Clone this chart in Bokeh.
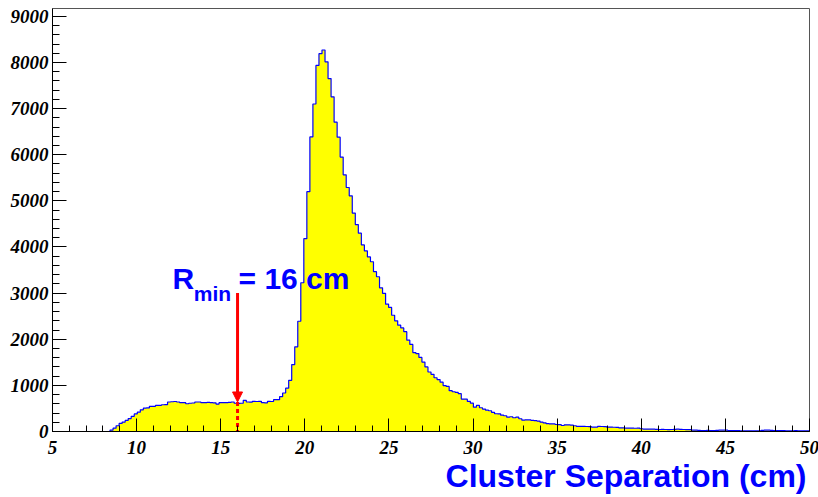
from bokeh.plotting import figure
from bokeh.models import FixedTicker, Label, Arrow, NormalHead, Range1d, LinearAxis
from bokeh.embed import file_html
from bokeh.resources import INLINE

# ---- data ----
x_lo, x_hi = 5.0, 50.0
n_bins = 250
counts = [
    0, 0, 0, 0, 0, 0, 0, 0, 0, 0,
    0, 0, 0, 0, 0, 0, 0, 0, 0, 30,
    72, 125, 175, 205, 240, 280, 330, 380, 420, 470,
    505, 510, 545, 545, 565, 568, 580, 582, 640, 645,
    650, 640, 625, 625, 602, 612, 618, 640, 640, 625,
    628, 630, 625, 622, 595, 625, 628, 625, 630, 640,
    612, 608, 612, 675, 640, 638, 655, 650, 655, 625,
    622, 655, 650, 690, 690, 755, 835, 940, 1110, 1450,
    1835, 2390, 3225, 4180, 5200, 6385, 7100, 7935, 8190, 8270,
    8015, 7650, 7255, 6705, 6380, 5950, 5565, 5290, 5110, 4735,
    4485, 4300, 4045, 3915, 3785, 3680, 3465, 3355, 3115, 2995,
    2760, 2690, 2520, 2400, 2305, 2245, 2165, 1980, 1888, 1710,
    1690, 1605, 1505, 1400, 1290, 1240, 1165, 1125, 1070, 995,
    978, 885, 862, 848, 820, 702, 700, 652, 615, 528,
    565, 515, 486, 463, 450, 413, 385, 383, 354, 341,
    311, 320, 298, 311, 276, 246, 254, 250, 240, 235,
    225, 205, 189, 170, 167, 165, 152, 150, 130, 145,
    143, 140, 125, 110, 109, 110, 108, 105, 94, 94,
    109, 108, 104, 94, 95, 92, 90, 80, 80, 72,
    73, 72, 70, 72, 60, 51, 52, 50, 51, 48,
    43, 44, 43, 42, 43, 48, 51, 48, 43, 42,
    40, 29, 30, 25, 22, 22, 23, 22, 22, 25,
    29, 30, 28, 22, 22, 21, 18, 14, 15, 14,
    14, 13, 14, 14, 25, 29, 28, 25, 22, 22,
    21, 22, 14, 14, 15, 18, 14, 13, 14, 14,
]
assert len(counts) == n_bins

x_major_ticks = [5, 10, 15, 20, 25, 30, 35, 40, 45, 50]
x_minor_ticks = list(range(5, 51))
y_major_ticks = [0, 1000, 2000, 3000, 4000, 5000, 6000, 7000, 8000, 9000]
y_minor_ticks = list(range(0, 9001, 200))
y_top = 9170

r_min = 16.0
arrow_top = 3000
arrow_tip = 640
x_title = "Cluster Separation (cm)"

# ---- page layout (pixels) ----
W, H = 818, 497
box_left, box_right, box_top, box_bottom = 52, 809, 8, 431

sx = (box_right - box_left) / (x_hi - x_lo)
sy = (box_bottom - box_top) / y_top
x_range = Range1d(x_lo - box_left / sx, x_hi + (W - box_right) / sx)
y_range = Range1d(-(H - box_bottom) / sy, y_top + box_top / sy)

bin_width = (x_hi - x_lo) / n_bins
edges = [x_lo + i * bin_width for i in range(n_bins + 1)]
levels = counts + [counts[-1]]

p = figure(width=W, height=H, output_backend="svg", toolbar_location=None,
           x_range=x_range, y_range=y_range,
           x_axis_location=None, y_axis_location=None,
           min_border_left=0, min_border_right=0, min_border_top=0,
           min_border_bottom=0)
p.background_fill_color = "white"
p.border_fill_color = "white"
p.outline_line_color = None
p.grid.visible = False

# histogram
p.varea_step(x=edges, y1=[0] * len(edges), y2=levels, step_mode="after",
             fill_color="#ffff00")
p.step(x=edges, y=levels, mode="after", line_color="#0000ff", line_width=1.2)

# plot box (top / right border)
p.quad(left=[x_lo], right=[x_hi], bottom=[0], top=[y_top], fill_alpha=0,
       line_color="#555555", line_width=1)

# axes placed on the plot box edges
xax = LinearAxis(fixed_location=0, bounds=(x_lo, x_hi))
yax = LinearAxis(fixed_location=x_lo, bounds=(0, y_top))
p.add_layout(xax, "below")
p.add_layout(yax, "left")
for ax, maj, mnr, tin, min_in in ((xax, x_major_ticks, x_minor_ticks, 13, 6),
                                  (yax, y_major_ticks, y_minor_ticks, 14, 7)):
    ax.ticker = FixedTicker(ticks=maj, minor_ticks=mnr)
    ax.major_tick_in = tin
    ax.major_tick_out = 0
    ax.minor_tick_in = min_in
    ax.minor_tick_out = 0
    ax.axis_line_color = "black"
    ax.major_tick_line_color = "black"
    ax.minor_tick_line_color = "black"
    ax.major_label_overrides = {t: "" for t in maj}
    ax.major_label_text_font_size = "0px"
    ax.major_label_standoff = 0

tick_font = dict(text_font="Liberation Serif", text_font_style="bold italic",
                 text_font_size="19px", text_color="black",
                 text_baseline="alphabetic")
for t in x_major_ticks:
    p.add_layout(Label(x=t, y=0, y_offset=-16, text=str(t), text_align="center",
                       **tick_font))
for t in y_major_ticks:
    p.add_layout(Label(x=x_lo, y=t, x_offset=-4, y_offset=0, text=str(t),
                       text_align="right", **tick_font))

# arrow marking R_min
p.segment(x0=[r_min], y0=[arrow_tip], x1=[r_min], y1=[0], line_color="#ff0000",
          line_width=3, line_dash="4 3")
p.add_layout(Arrow(end=NormalHead(size=10, fill_color="#ff0000", line_color="#ff0000",
                                  line_width=1),
                   x_start=r_min, y_start=arrow_top, x_end=r_min, y_end=arrow_tip,
                   line_color="#ff0000", line_width=3))

blue = "#0000ff"
p.add_layout(Label(x=12.14, y=3053, y_offset=12, text="R", text_font="Liberation Sans",
                   text_font_style="bold", text_font_size="30px", text_color=blue,
                   text_baseline="alphabetic", text_align="left"))
p.add_layout(Label(x=13.4, y=2810, y_offset=8, text="min", text_font="Liberation Sans",
                   text_font_style="bold", text_font_size="21px", text_color=blue,
                   text_baseline="alphabetic", text_align="left"))
p.add_layout(Label(x=16.06, y=3053, y_offset=12, text="= 16 cm", text_font="Liberation Sans",
                   text_font_style="bold", text_font_size="30px", text_color=blue,
                   text_baseline="alphabetic", text_align="left"))
p.add_layout(Label(x=x_hi, y=0, x_offset=-3, y_offset=-44, text=x_title,
                   text_font="Liberation Sans", text_font_style="bold",
                   text_font_size="32px", text_color=blue,
                   text_baseline="alphabetic", text_align="right"))

open("out.html", "w").write(file_html(p, INLINE))
